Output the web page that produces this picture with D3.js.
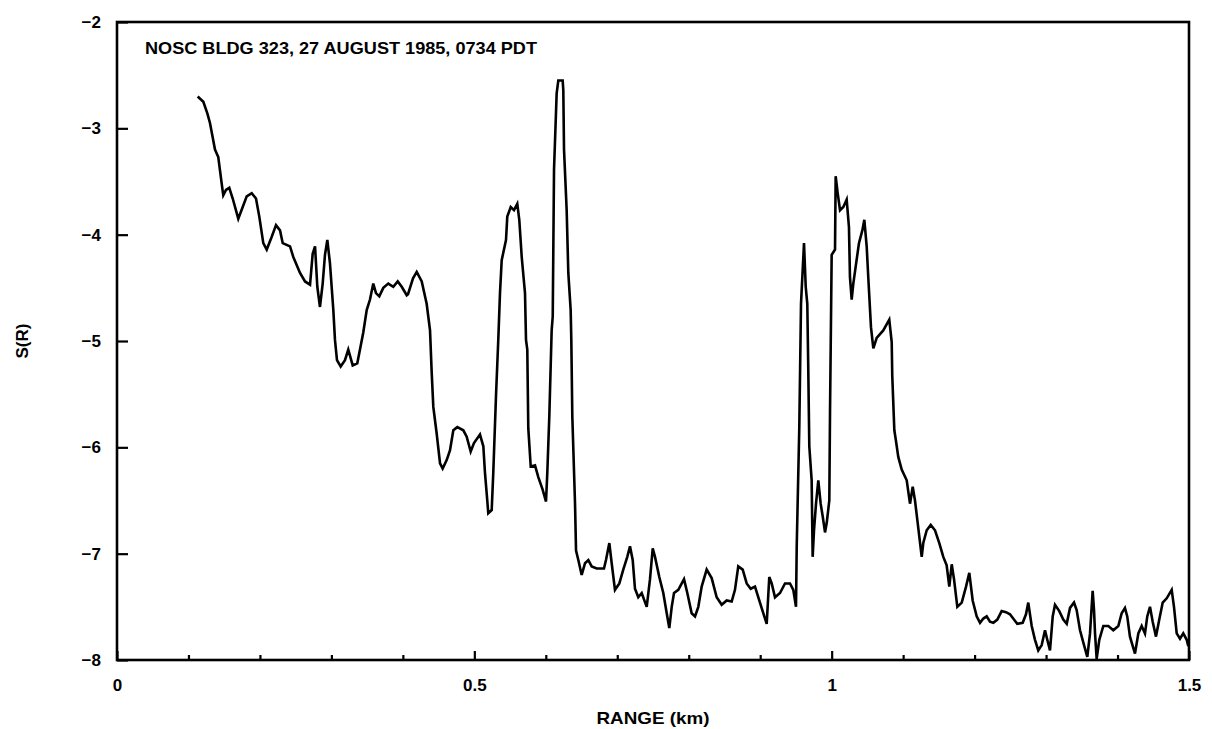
<!DOCTYPE html>
<html>
<head>
<meta charset="utf-8">
<script src="https://cdn.jsdelivr.net/npm/d3@7"></script>
<style>
  html, body { margin: 0; padding: 0; background: #fff; }
  svg { display: block; }
  text { font-family: "Liberation Sans", Arial, sans-serif; fill: #000; }
</style>
</head>
<body>
<svg id="chart" width="1212" height="729"></svg>
<script>
// Range (km) of each traced sample
const rangeKm = [
  0.1129, 0.1208, 0.1264, 0.1301, 0.1371, 0.1417, 0.1465, 0.1487, 0.1525, 0.1571,
  0.1619, 0.1697, 0.1759, 0.1815, 0.1885, 0.1945, 0.1991, 0.2047, 0.2095, 0.2165,
  0.2225, 0.2281, 0.2319, 0.2421, 0.2467, 0.2561, 0.2631, 0.2701, 0.2738, 0.2771,
  0.2803, 0.2840, 0.2878, 0.2910, 0.2943, 0.2980, 0.3027, 0.3050, 0.3078, 0.3130,
  0.3190, 0.3236, 0.3298, 0.3362, 0.3400, 0.3446, 0.3494, 0.3540, 0.3586, 0.3624,
  0.3670, 0.3726, 0.3796, 0.3866, 0.3928, 0.3984, 0.4054, 0.4072, 0.4142, 0.4194,
  0.4264, 0.4333, 0.4380, 0.4403, 0.4426, 0.4473, 0.4520, 0.4557, 0.4613, 0.4659,
  0.4706, 0.4762, 0.4846, 0.4893, 0.4949, 0.4995, 0.5079, 0.5126, 0.5149, 0.5181,
  0.5195, 0.5243, 0.5265, 0.5303, 0.5335, 0.5359, 0.5383, 0.5443, 0.5461, 0.5509,
  0.5555, 0.5601, 0.5629, 0.5663, 0.5709, 0.5723, 0.5741, 0.5755, 0.5789, 0.5849,
  0.5895, 0.5957, 0.6003, 0.6021, 0.6049, 0.6082, 0.6097, 0.6115, 0.6152, 0.6175,
  0.6236, 0.6245, 0.6255, 0.6292, 0.6315, 0.6348, 0.6357, 0.6371, 0.6409, 0.6423,
  0.6455, 0.6502, 0.6549, 0.6595, 0.6642, 0.6712, 0.6814, 0.6842, 0.6889, 0.6922,
  0.6968, 0.7029, 0.7084, 0.7140, 0.7178, 0.7216, 0.7248, 0.7294, 0.7342, 0.7412,
  0.7458, 0.7496, 0.7528, 0.7588, 0.7644, 0.7692, 0.7728, 0.7762, 0.7794, 0.7854,
  0.7934, 0.7980, 0.8041, 0.8088, 0.8134, 0.8181, 0.8251, 0.8321, 0.8391, 0.8461,
  0.8531, 0.8601, 0.8647, 0.8693, 0.8755, 0.8811, 0.8867, 0.8927, 0.8987, 0.9043,
  0.9091, 0.9127, 0.9161, 0.9207, 0.9277, 0.9347, 0.9417, 0.9463, 0.9501, 0.9511,
  0.9547, 0.9571, 0.9613, 0.9637, 0.9659, 0.9673, 0.9687, 0.9720, 0.9734, 0.9753,
  0.9781, 0.9813, 0.9846, 0.9875, 0.9907, 0.9931, 0.9967, 0.9977, 1.0000, 1.0047,
  1.0056, 1.0084, 1.0117, 1.0163, 1.0210, 1.0242, 1.0256, 1.0280, 1.0303, 1.0336,
  1.0382, 1.0429, 1.0457, 1.0490, 1.0513, 1.0550, 1.0583, 1.0630, 1.0722, 1.0806,
  1.0840, 1.0848, 1.0877, 1.0900, 1.0932, 1.0980, 1.1050, 1.1096, 1.1134, 1.1166,
  1.1198, 1.1260, 1.1282, 1.1330, 1.1386, 1.1446, 1.1506, 1.1562, 1.1609, 1.1646,
  1.1680, 1.1712, 1.1758, 1.1820, 1.1880, 1.1926, 1.1973, 1.2029, 1.2076, 1.2122,
  1.2169, 1.2215, 1.2262, 1.2318, 1.2379, 1.2439, 1.2495, 1.2551, 1.2597, 1.2673,
  1.2719, 1.2751, 1.2799, 1.2845, 1.2891, 1.2939, 1.2985, 1.3017, 1.3055, 1.3093,
  1.3125, 1.3185, 1.3241, 1.3289, 1.3335, 1.3391, 1.3428, 1.3475, 1.3531, 1.3577,
  1.3615, 1.3638, 1.3652, 1.3671, 1.3685, 1.3708, 1.3745, 1.3801, 1.3871, 1.3941,
  1.4011, 1.4058, 1.4104, 1.4136, 1.4174, 1.4244, 1.4291, 1.4338, 1.4384, 1.4416,
  1.4454, 1.4492, 1.4538, 1.4584, 1.4632, 1.4688, 1.4758, 1.4790, 1.4828, 1.4874,
  1.4920, 1.4968, 1.4990
];

// S(R) at each sample
const sValues = [
  -2.70, -2.75, -2.86, -2.95, -3.20, -3.27, -3.52, -3.63, -3.58, -3.56,
  -3.66, -3.85, -3.74, -3.64, -3.61, -3.66, -3.83, -4.08, -4.14, -4.02,
  -3.91, -3.96, -4.08, -4.11, -4.21, -4.36, -4.44, -4.47, -4.18, -4.11,
  -4.49, -4.68, -4.46, -4.19, -4.05, -4.27, -4.71, -4.99, -5.18, -5.24,
  -5.18, -5.08, -5.23, -5.21, -5.08, -4.92, -4.71, -4.61, -4.46, -4.55,
  -4.58, -4.50, -4.46, -4.49, -4.44, -4.49, -4.57, -4.56, -4.41, -4.35,
  -4.44, -4.65, -4.90, -5.29, -5.62, -5.87, -6.15, -6.20, -6.12, -6.03,
  -5.84, -5.81, -5.84, -5.90, -6.04, -5.96, -5.88, -5.99, -6.24, -6.50,
  -6.62, -6.59, -6.24, -5.52, -4.99, -4.55, -4.24, -4.05, -3.83, -3.74,
  -3.77, -3.71, -3.86, -4.21, -4.55, -4.99, -5.08, -5.82, -6.18, -6.17,
  -6.28, -6.40, -6.51, -6.24, -5.71, -4.90, -4.77, -3.39, -2.67, -2.55,
  -2.55, -2.64, -3.20, -3.77, -4.36, -4.71, -4.99, -5.71, -6.53, -6.97,
  -7.06, -7.20, -7.09, -7.06, -7.12, -7.14, -7.14, -7.06, -6.90, -7.09,
  -7.34, -7.28, -7.15, -7.03, -6.93, -7.06, -7.33, -7.41, -7.37, -7.50,
  -7.24, -6.95, -7.03, -7.22, -7.37, -7.56, -7.70, -7.50, -7.37, -7.34,
  -7.24, -7.37, -7.56, -7.59, -7.50, -7.31, -7.15, -7.23, -7.41, -7.48,
  -7.44, -7.45, -7.34, -7.12, -7.15, -7.28, -7.33, -7.31, -7.44, -7.56,
  -7.66, -7.22, -7.28, -7.41, -7.37, -7.28, -7.28, -7.34, -7.50, -6.93,
  -5.81, -4.65, -4.08, -4.49, -4.65, -5.28, -5.99, -6.31, -7.03, -6.78,
  -6.53, -6.31, -6.53, -6.65, -6.80, -6.71, -6.50, -5.67, -4.19, -4.14,
  -3.45, -3.61, -3.77, -3.74, -3.67, -3.93, -4.40, -4.61, -4.46, -4.30,
  -4.08, -3.96, -3.86, -4.11, -4.41, -4.87, -5.07, -4.97, -4.90, -4.80,
  -5.01, -5.33, -5.84, -5.94, -6.09, -6.21, -6.31, -6.53, -6.37, -6.50,
  -6.68, -7.03, -6.90, -6.78, -6.73, -6.78, -6.90, -7.03, -7.11, -7.31,
  -7.10, -7.24, -7.50, -7.46, -7.31, -7.18, -7.44, -7.59, -7.65, -7.61,
  -7.59, -7.64, -7.65, -7.62, -7.54, -7.55, -7.57, -7.62, -7.66, -7.65,
  -7.57, -7.46, -7.68, -7.81, -7.91, -7.86, -7.72, -7.81, -7.91, -7.59,
  -7.48, -7.54, -7.62, -7.66, -7.51, -7.46, -7.53, -7.72, -7.86, -7.97,
  -7.75, -7.50, -7.35, -7.53, -7.75, -7.99, -7.81, -7.68, -7.68, -7.72,
  -7.68, -7.56, -7.51, -7.59, -7.78, -7.94, -7.75, -7.68, -7.75, -7.59,
  -7.50, -7.64, -7.78, -7.62, -7.46, -7.42, -7.34, -7.50, -7.75, -7.80,
  -7.75, -7.81, -7.87
];

const xTickValues = [0, 0.5, 1, 1.5];
const xTickLabels = ["0", "0.5", "1", "1.5"];
const xMinorTicks = [0.1, 0.2, 0.3, 0.4, 0.6, 0.7, 0.8, 0.9, 1.1, 1.2, 1.3, 1.4];
const yTickValues = [-8, -7, -6, -5, -4, -3, -2];
const yTickLabels = ["\u22128", "\u22127", "\u22126", "\u22125", "\u22124", "\u22123", "\u22122"];

const titleText = "NOSC BLDG 323, 27 AUGUST 1985, 0734 PDT";
const xTitle = "RANGE (km)";
const yTitle = "S(R)";

const margin = { top: 22, right: 23, bottom: 69, left: 117 };
const W = 1212, H = 729;
const w = W - margin.left - margin.right;
const h = H - margin.top - margin.bottom;

const svg = d3.select('#chart');
const g = svg.append('g').attr('transform', `translate(${margin.left},${margin.top})`);

const x = d3.scaleLinear().domain([0, 1.5]).range([0, w]);
const y = d3.scaleLinear().domain([-8, -2]).range([h, 0]);

// frame
g.append('rect')
  .attr('x', 0).attr('y', 0).attr('width', w).attr('height', h)
  .attr('fill', 'none').attr('stroke', '#000').attr('stroke-width', 2.6);

// x axis: major ticks, inward
const xAxis = d3.axisBottom(x)
  .tickValues(xTickValues)
  .tickFormat((d, i) => xTickLabels[i])
  .tickSizeInner(-9).tickSizeOuter(0).tickPadding(19);
const gx = g.append('g').attr('transform', `translate(0,${h})`).call(xAxis);

// minor x ticks
g.append('g').attr('transform', `translate(0,${h})`)
  .call(d3.axisBottom(x).tickValues(xMinorTicks).tickFormat('').tickSizeInner(-5).tickSizeOuter(0))
  .call(a => a.select('.domain').remove());

// y axis, ticks inward
const yAxis = d3.axisLeft(y)
  .tickValues(yTickValues)
  .tickFormat((d, i) => yTickLabels[i])
  .tickSizeInner(-11).tickSizeOuter(0).tickPadding(16);
const gy = g.append('g').call(yAxis);

[gx, gy].forEach(a => {
  a.select('.domain').remove();
  a.selectAll('.tick text')
    .style('font-family', '"Liberation Sans", Arial, sans-serif')
    .style('font-size', '17px')
    .style('font-weight', 'bold')
    .attr('fill', '#000');
});
g.selectAll('g.tick line').attr('stroke', '#000').attr('stroke-width', 2.2);

// the trace
const pts = rangeKm.map((r, i) => [r, sValues[i]]);
const line = d3.line().x(d => x(d[0])).y(d => y(d[1])).curve(d3.curveLinear);
g.append('path')
  .datum(pts)
  .attr('d', line)
  .attr('fill', 'none')
  .attr('stroke', '#000')
  .attr('stroke-width', 2.6)
  .attr('stroke-linejoin', 'miter');

// title inside the frame
g.append('text')
  .attr('x', 28).attr('y', 32)
  .attr('textLength', 392).attr('lengthAdjust', 'spacingAndGlyphs')
  .style('font-size', '17px').style('font-weight', 'bold')
  .text(titleText);

// axis titles
svg.append('text')
  .attr('x', margin.left + x(0.75)).attr('y', 724)
  .attr('text-anchor', 'middle')
  .attr('textLength', 113).attr('lengthAdjust', 'spacingAndGlyphs')
  .style('font-size', '17px').style('font-weight', 'bold')
  .text(xTitle);

svg.append('text')
  .attr('transform', `translate(28,${margin.top + y(-5)}) rotate(-90)`)
  .attr('text-anchor', 'middle')
  .style('font-size', '17px').style('font-weight', 'bold')
  .text(yTitle);
</script>
</body>
</html>
